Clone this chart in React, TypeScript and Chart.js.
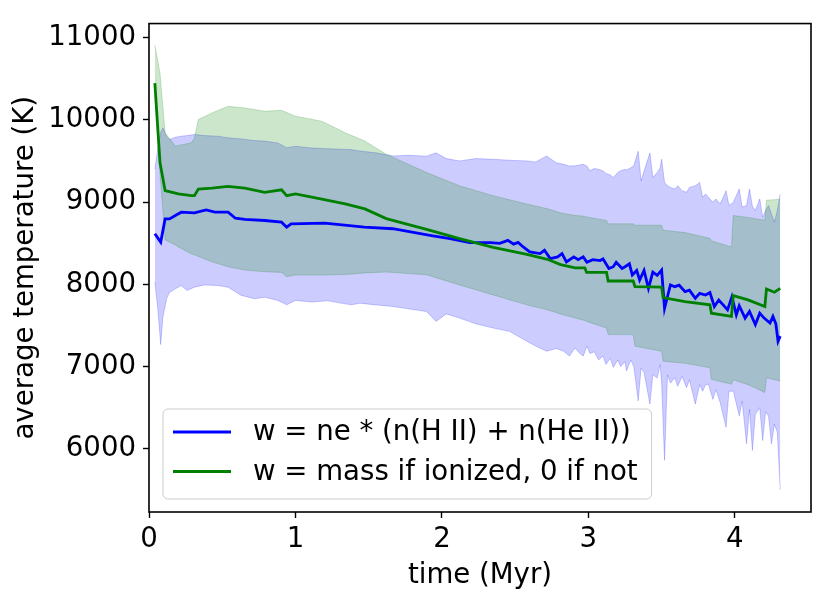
import React, { useRef, useEffect } from 'react';
import { Chart, registerables } from 'chart.js';

Chart.register(...registerables);

// time axis (Myr) for the blue band (upper / lower envelope)
const blueBandTimes = [
  0.04, 0.06, 0.08, 0.095, 0.12, 0.14, 0.18, 0.22, 0.26, 0.31,
  0.38, 0.47, 0.54, 0.63, 0.72, 0.79, 0.88, 0.94, 1.0, 1.11,
  1.22, 1.38, 1.44, 1.55, 1.665, 1.78, 1.895, 1.96, 2.03, 2.12,
  2.23, 2.35, 2.46, 2.58, 2.64, 2.715, 2.78, 2.83,
  2.87, 2.91, 2.93, 2.965, 2.99, 3.01, 3.04, 3.07, 3.1, 3.12,
  3.15, 3.17, 3.2, 3.22, 3.25, 3.26, 3.29, 3.31, 3.34, 3.36,
  3.38, 3.42, 3.44, 3.47, 3.49, 3.5, 3.52, 3.54, 3.56, 3.59,
  3.61, 3.64, 3.67, 3.69, 3.73, 3.76, 3.78, 3.8, 3.82, 3.85,
  3.87, 3.9, 3.94, 3.96, 3.99, 4.03, 4.05, 4.08, 4.1, 4.12,
  4.14, 4.17, 4.19, 4.21, 4.23, 4.25, 4.27, 4.29, 4.31,
];
const blueUpper = [
  9400, 9650, 9850, 9905, 9800, 9763, 9790, 9803, 9810, 9824,
  9810, 9803, 9783, 9770, 9750, 9743, 9720, 9663, 9680, 9660,
  9650, 9640, 9623, 9600, 9563, 9570, 9560, 9600, 9530, 9502,
  9530, 9522, 9510, 9502, 9490, 9562, 9480, 9461,
  9440, 9442, 9450, 9460, 9440, 9382, 9410, 9400, 9380, 9350,
  9330, 9300, 9360, 9382, 9400, 9390, 9420, 9442, 9620, 9260,
  9380, 9600, 9300, 9360, 9420, 9522, 9240, 9200, 9180, 9160,
  9200, 9140, 9120, 9180, 9200, 9240, 9060, 9100, 9060, 8999,
  9040, 8980, 9140, 8960, 9000, 9160, 8940, 8960, 9160, 8950,
  8898, 9040, 8818, 8900, 8959, 8860, 8757, 8900, 9100,
];
const blueLower = [
  8030, 7700, 7268, 7600, 7825, 7900, 7946, 7986, 7926, 7966,
  7993, 7986, 7966, 7866, 7825, 7845, 7805, 7751, 7805, 7785,
  7800, 7751, 7771, 7750, 7731, 7700, 7670, 7550, 7640, 7590,
  7520, 7469, 7429, 7308, 7250, 7187, 7220, 7187,
  7130, 7227, 7180, 7127, 7250, 7160, 7180, 7080, 7130, 7026,
  7100, 6990, 7080, 7000, 7060, 6946, 7080, 7000, 6583, 6980,
  6930, 6543, 6900, 6860, 7026, 6800, 5860, 6900, 6800, 6865,
  6760, 6880, 6744, 6840, 6543, 6780, 6700, 6780, 6785, 6600,
  6720, 6560, 6261, 6700, 6700, 6400, 6580, 6061, 6480, 5980,
  6420, 6500, 6100, 6450, 6400, 6060, 6300, 6200, 5500,
];

// weighted mean, w = ne * (n(H II) + n(He II))
const blueMeanTimes = [
  0.04, 0.08, 0.11, 0.14, 0.18, 0.22, 0.31, 0.39, 0.45, 0.54,
  0.59, 0.655, 0.79, 0.905, 0.94, 0.97, 1.2, 1.47, 1.665, 1.918,
  2.055, 2.19, 2.33, 2.396, 2.45, 2.49, 2.52, 2.555, 2.6, 2.67,
  2.7, 2.74, 2.79, 2.82, 2.85, 2.9, 2.93, 2.965, 2.99, 3.03,
  3.08, 3.1, 3.14, 3.17, 3.19, 3.23, 3.25, 3.28, 3.3, 3.33,
  3.35, 3.38, 3.41, 3.44, 3.47, 3.5, 3.52, 3.56, 3.59, 3.62,
  3.66, 3.69, 3.73, 3.76, 3.8, 3.83, 3.86, 3.89, 3.92, 3.95,
  3.98, 4.01, 4.03, 4.07, 4.1, 4.14, 4.17, 4.2, 4.24, 4.26,
  4.28, 4.295, 4.31,
];
const blueMean = [
  8616, 8514, 8797, 8797, 8838, 8878, 8870, 8905, 8880, 8878,
  8805, 8790, 8777, 8757, 8696, 8737, 8745, 8696, 8677, 8597,
  8556, 8508, 8508, 8500, 8536, 8490, 8510, 8455, 8395, 8375,
  8415, 8314, 8335, 8375, 8274, 8335, 8300, 8335, 8270, 8300,
  8290, 8310, 8194, 8215, 8270, 8194, 8215, 8250, 8114, 8170,
  8053, 8170, 7952, 8150, 8110, 8174, 7710, 7993, 7972, 7990,
  7912, 7930, 7831, 7890, 7870, 7900, 7731, 7810, 7750, 7690,
  7850, 7630, 7740, 7590, 7670, 7510, 7650, 7590, 7530, 7610,
  7520, 7308, 7370,
];

// w = mass if ionized, 0 if not
const greenTimes = [
  0.04, 0.075, 0.11, 0.18, 0.2, 0.29, 0.31, 0.337, 0.43, 0.54,
  0.655, 0.79, 0.905, 0.94, 1.0, 1.18, 1.34, 1.474, 1.62, 1.895,
  2.12, 2.35, 2.58, 2.72, 2.81, 2.91, 2.976, 2.988, 3.124, 3.135,
  3.306, 3.318, 3.5, 3.51, 3.66, 3.83, 3.84, 3.977, 3.989, 4.09,
  4.205, 4.216, 4.27, 4.31,
];
const greenMean = [
  10448, 9482, 9140, 9110, 9100, 9080, 9080, 9160, 9170, 9192,
  9170, 9120, 9150, 9080, 9100, 9038, 8980, 8918, 8800, 8670,
  8556, 8450, 8365, 8305, 8240, 8200, 8200, 8145, 8145, 8041,
  8041, 7972, 7966, 7839, 7791, 7751, 7650, 7610, 7864, 7811,
  7731, 7944, 7904, 7952,
];
const greenUpper = [
  10911, 10569, 9844, 9683, 9690, 9723, 9780, 10005, 10086, 10166,
  10146, 10106, 10118, 10090, 10046, 9985, 9844, 9744, 9582, 9361,
  9200, 9079, 8978, 8920, 8870, 8838, 8830, 8820, 8778, 8737,
  8737, 8720, 8720, 8660, 8630, 8560, 8530, 8455, 8838, 8815,
  8780, 9025, 9030, 9040,
];
const greenLower = [
  10300, 9350, 8540, 8480, 8456, 8370, 8360, 8340, 8274, 8214,
  8174, 8154, 8146, 8093, 8113, 8113, 8120, 8140, 8150, 8117,
  7993, 7872, 7751, 7690, 7640, 7590, 7560, 7550, 7469, 7389,
  7389, 7248, 7187, 7066, 7040, 6986, 6845, 6785, 6840, 6780,
  6684, 6865, 6840, 6825,
];

const xTicks = [0, 1, 2, 3, 4];
const yTicks = [6000, 7000, 8000, 9000, 10000, 11000];
const legendLabels = ['w = ne * (n(H II) + n(He II))', 'w = mass if ionized, 0 if not'];

const BLUE = '#0000ff';
const GREEN = '#008000';
const FONT = 'DejaVu Sans';
const SIZE = 27.6;

const pts = (xs: number[], ys: number[]) => xs.map((x, i) => ({ x, y: ys[i] }));

// black frame around the plotting area (matplotlib spines)
const framePlugin = {
  id: 'frame',
  afterDatasetsDraw(chart: any) {
    const { ctx, chartArea: a } = chart;
    ctx.save();
    ctx.strokeStyle = '#000';
    ctx.lineWidth = 1.6;
    ctx.strokeRect(a.left, a.top, a.right - a.left, a.bottom - a.top);
    ctx.restore();
  },
};

// legend box in the lower left corner of the axes
const legendPlugin = {
  id: 'boxLegend',
  afterDraw(chart: any) {
    const { ctx, chartArea: a } = chart;
    const colors = [BLUE, GREEN];
    ctx.save();
    ctx.font = `${SIZE}px "${FONT}"`;
    const textW = Math.max(...legendLabels.map((t) => ctx.measureText(t).width));
    const left = a.left + 14;
    const bottom = a.bottom - 13;
    const height = 90;
    const top = bottom - height;
    const width = 90 + textW + 14;
    ctx.beginPath();
    ctx.roundRect(left, top, width, height, 5);
    ctx.fillStyle = 'rgba(255,255,255,0.8)';
    ctx.fill();
    ctx.strokeStyle = '#cccccc';
    ctx.lineWidth = 1;
    ctx.stroke();
    legendLabels.forEach((label, i) => {
      const y = top + 23 + i * 39.5;
      ctx.strokeStyle = colors[i];
      ctx.lineWidth = 2.8;
      ctx.beginPath();
      ctx.moveTo(left + 10, y);
      ctx.lineTo(left + 68, y);
      ctx.stroke();
      ctx.fillStyle = '#000';
      ctx.textBaseline = 'middle';
      ctx.textAlign = 'left';
      ctx.fillText(label, left + 90, y + 1);
    });
    ctx.restore();
  },
};

export default function App() {
  const canvasRef = useRef<HTMLCanvasElement>(null);

  useEffect(() => {
    if (!canvasRef.current) return;
    const band = (xs: number[], ys: number[], color: string, fill: any) => ({
      data: pts(xs, ys),
      borderColor: color,
      backgroundColor: color,
      borderWidth: 1,
      pointRadius: 0,
      fill,
    });
    const chart = new Chart(canvasRef.current, {
      type: 'line',
      data: {
        datasets: [
          { data: pts(greenTimes, greenMean), borderColor: GREEN, borderWidth: 2.8, pointRadius: 0, fill: false },
          { data: pts(blueMeanTimes, blueMean), borderColor: BLUE, borderWidth: 2.8, pointRadius: 0, fill: false },
          band(greenTimes, greenUpper, 'rgba(0,128,0,0.2)', '+1'),
          band(greenTimes, greenLower, 'rgba(0,128,0,0.2)', false),
          band(blueBandTimes, blueUpper, 'rgba(0,0,255,0.2)', '+1'),
          band(blueBandTimes, blueLower, 'rgba(0,0,255,0.2)', false),
        ],
      },
      options: {
        responsive: false,
        animation: false,
        layout: { padding: { top: 20, right: 20, left: 0, bottom: 0 } },
        plugins: { legend: { display: false }, tooltip: { enabled: false } },
        elements: { line: { tension: 0 } },
        scales: {
          x: {
            type: 'linear',
            min: 0,
            max: 4.52,
            afterBuildTicks: (axis: any) => { axis.ticks = xTicks.map((v) => ({ value: v })); },
            afterFit: (axis: any) => { axis.height = 89; },
            grid: { drawOnChartArea: false, drawTicks: true, tickLength: 6, tickColor: '#000', tickWidth: 1.4 },
            border: { display: false },
            ticks: { color: '#000', padding: 5, font: { family: FONT, size: SIZE }, maxRotation: 0, callback: (v: any) => String(v) },
            title: { display: true, text: 'time (Myr)', color: '#000', font: { family: FONT, size: SIZE }, padding: { top: 0, bottom: 9 } },
          },
          y: {
            type: 'linear',
            min: 5231,
            max: 11173,
            afterBuildTicks: (axis: any) => { axis.ticks = yTicks.map((v) => ({ value: v })); },
            afterFit: (axis: any) => { axis.width = 149; },
            grid: { drawOnChartArea: false, drawTicks: true, tickLength: 6, tickColor: '#000', tickWidth: 1.4 },
            border: { display: false },
            ticks: { color: '#000', padding: 7, font: { family: FONT, size: SIZE }, callback: (v: any) => String(v) },
            title: { display: true, text: 'average temperature (K)', color: '#000', font: { family: FONT, size: SIZE }, padding: { top: 9, bottom: 0 } },
          },
        },
      },
      plugins: [framePlugin, legendPlugin],
    });
    return () => chart.destroy();
  }, []);

  return (
    <div style={{ position: 'fixed', left: 0, top: 0, width: 831, height: 601, background: '#fff' }}>
      <canvas ref={canvasRef} width={831} height={601} style={{ display: 'block' }} />
    </div>
  );
}
